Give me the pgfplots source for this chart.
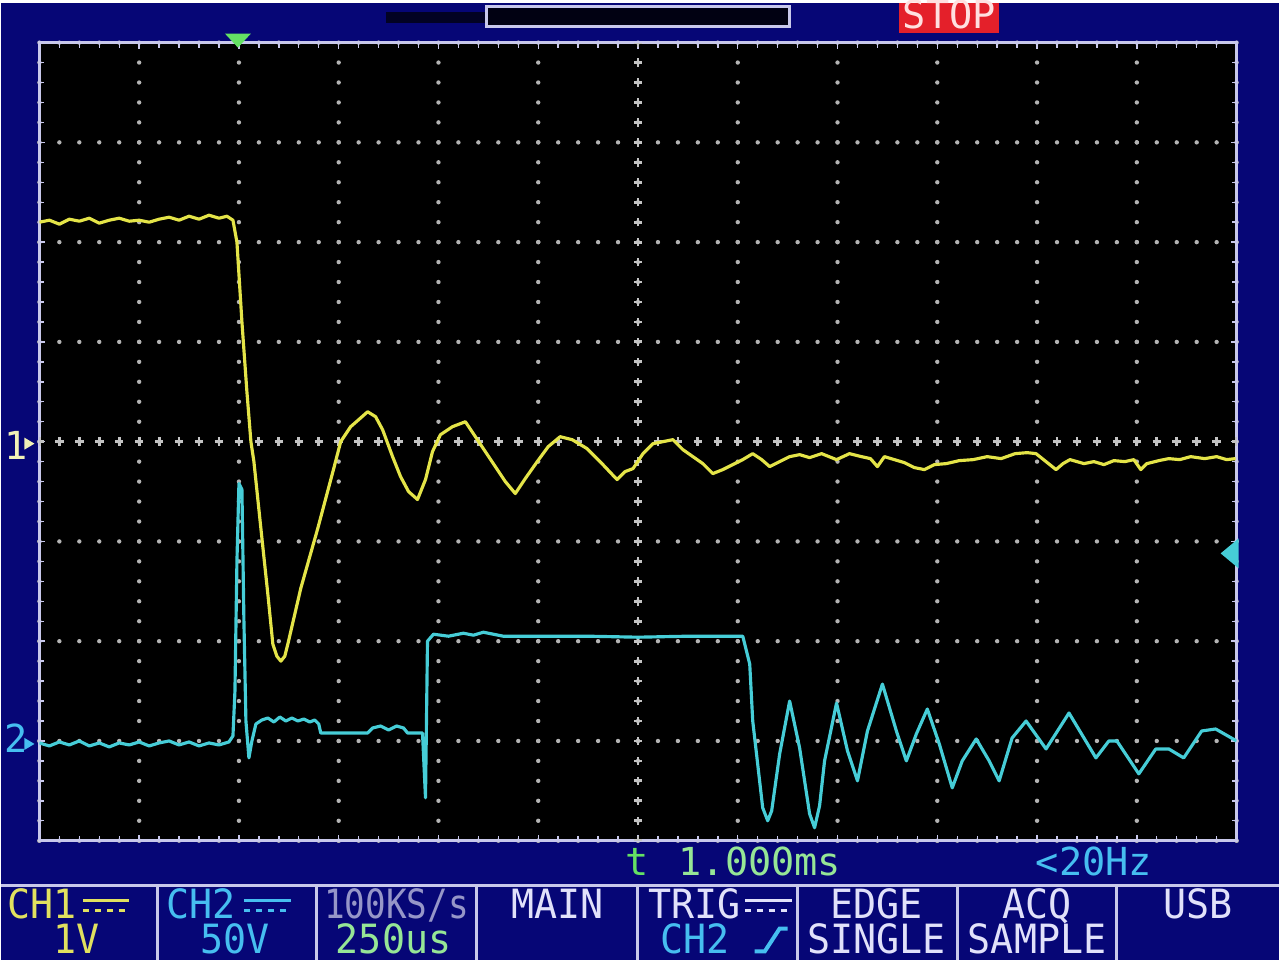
\documentclass[border=0pt]{standalone}
\usepackage{pgfplots}
\pgfplotsset{compat=1.18}
\usepackage{graphicx}
\usepackage{fontspec}
\newfontfamily\osc{DejaVu Sans Mono}
\definecolor{scrbg}{RGB}{6,6,118}
\definecolor{framec}{RGB}{200,200,235}
\definecolor{gridc}{RGB}{180,180,180}
\definecolor{ch1}{RGB}{228,228,72}
\definecolor{ch2}{RGB}{70,205,215}
\definecolor{ch1txt}{RGB}{225,225,95}
\definecolor{ch2txt}{RGB}{70,190,240}
\definecolor{wtxt}{RGB}{225,225,250}
\definecolor{gtxt}{RGB}{150,230,150}
\definecolor{trigg}{RGB}{100,225,100}
\definecolor{stopred}{RGB}{228,32,42}
\definecolor{greyt}{RGB}{150,150,200}
\newcommand\ot[1]{\scalebox{0.95}[1]{#1}}
\tikzset{big/.style={inner sep=0pt, font=\osc\fontsize{11.5}{11.5}\selectfont},
         sml/.style={inner sep=0pt, font=\osc\fontsize{11}{11}\selectfont}}
\begin{document}
\begin{tikzpicture}
\begin{scope}[x=0.1mm,y=-0.1mm,yshift=96mm]
\useasboundingbox (0,0) rectangle (1280,960);
\fill[scrbg] (0,0) rectangle (1280,960);
\end{scope}
\begin{axis}[
  at={(3.8mm,12mm)}, anchor=south west,
  scale only axis, width=120mm, height=80mm,
  xmin=0, xmax=12, ymin=0, ymax=8,
  xtick={0,...,12}, ytick={0,...,8},
  minor x tick num=4, minor y tick num=4,
  xticklabels={}, yticklabels={},
  tick pos=both, tick align=inside,
  major tick length=0.6mm, minor tick length=0.5mm,
  every tick/.style={framec, line width=0.4pt},
  axis line style={framec, line width=0.7pt},
  axis background/.style={fill=black},
  grid=major,
  major grid style={gridc, line width=1.25pt, line cap=round, dash pattern=on 0pt off 2mm},
]
\draw[gridc!80!white, line width=0.28mm, dash pattern=on 0.85mm off 1.15mm, dash phase=0.425mm] (axis cs:6,0) -- (axis cs:6,8);
\draw[gridc!80!white, line width=0.85mm, dash pattern=on 0.28mm off 1.72mm, dash phase=0.14mm] (axis cs:6,0) -- (axis cs:6,8);
\draw[gridc!80!white, line width=0.28mm, dash pattern=on 0.85mm off 1.15mm, dash phase=0.425mm] (axis cs:0,4) -- (axis cs:12,4);
\draw[gridc!80!white, line width=0.85mm, dash pattern=on 0.28mm off 1.72mm, dash phase=0.14mm] (axis cs:0,4) -- (axis cs:12,4);
% CH1 (yellow)
\addplot[ch1, line width=0.9pt, line join=round, mark=none] coordinates {
(0.00,6.20)(0.10,6.22)(0.20,6.18)(0.30,6.23)(0.40,6.21)(0.50,6.24)(0.60,6.19)(0.70,6.22)(0.80,6.24)(0.90,6.21)(1.00,6.22)(1.10,6.20)(1.20,6.23)(1.30,6.25)(1.40,6.22)(1.50,6.26)(1.60,6.23)(1.70,6.27)(1.80,6.24)(1.88,6.26)(1.94,6.22)
(1.98,6.00)(2.03,5.20)(2.08,4.50)(2.12,4.00)(2.15,3.80)(2.22,3.13)(2.29,2.47)(2.34,1.97)(2.38,1.85)(2.42,1.80)(2.46,1.85)(2.49,1.97)(2.62,2.53)(2.79,3.13)(2.95,3.73)(3.02,4.00)(3.12,4.15)(3.20,4.22)(3.29,4.30)(3.37,4.25)(3.44,4.12)(3.54,3.85)(3.62,3.65)(3.70,3.50)(3.79,3.42)(3.87,3.62)(3.94,3.90)(4.02,4.07)(4.14,4.15)(4.27,4.20)(4.37,4.05)(4.45,3.93)(4.57,3.75)(4.67,3.60)(4.77,3.48)(4.87,3.63)(4.99,3.80)(5.10,3.95)(5.22,4.05)(5.34,4.02)(5.49,3.93)(5.62,3.80)(5.79,3.62)(5.87,3.70)(5.95,3.73)(6.05,3.88)(6.15,3.98)(6.25,4.00)(6.35,4.02)(6.45,3.92)(6.55,3.85)(6.65,3.78)(6.75,3.68)(6.85,3.72)(6.95,3.77)(7.05,3.82)(7.15,3.88)(7.24,3.82)(7.32,3.75)(7.42,3.80)(7.52,3.85)(7.62,3.87)(7.72,3.84)(7.84,3.88)(7.99,3.82)(8.12,3.88)(8.24,3.85)(8.33,3.83)(8.40,3.75)(8.47,3.85)(8.57,3.82)(8.67,3.79)(8.77,3.74)(8.87,3.72)(8.97,3.77)(9.09,3.78)(9.22,3.81)(9.36,3.82)(9.50,3.85)(9.64,3.83)(9.78,3.88)(9.90,3.89)(9.99,3.88)(10.09,3.80)(10.19,3.72)(10.26,3.78)(10.33,3.82)(10.47,3.78)(10.57,3.80)(10.67,3.77)(10.77,3.81)(10.88,3.80)(10.97,3.82)(11.04,3.72)(11.10,3.78)(11.22,3.81)(11.32,3.83)(11.43,3.82)(11.54,3.85)(11.68,3.83)(11.80,3.85)(11.90,3.82)(11.99,3.83)
};
% CH2 (cyan)
\addplot[ch2, line width=0.9pt, line join=round, mark=none] coordinates {
(0.00,0.98)(0.10,0.95)(0.20,0.99)(0.30,0.96)(0.40,1.00)(0.50,0.95)(0.60,0.98)(0.70,0.94)(0.80,0.98)(0.90,0.96)(1.00,0.99)(1.10,0.95)(1.20,0.98)(1.30,1.00)(1.40,0.96)(1.50,0.99)(1.60,0.95)(1.70,0.98)(1.80,0.96)(1.90,0.99)(1.94,1.05)(1.96,1.50)(1.98,2.80)(2.00,3.58)(2.03,3.52)(2.05,2.20)(2.07,1.20)(2.10,0.83)(2.13,1.00)(2.17,1.17)(2.23,1.21)(2.29,1.23)(2.35,1.19)(2.41,1.24)(2.47,1.20)(2.53,1.23)(2.59,1.20)(2.65,1.22)(2.71,1.19)(2.76,1.21)(2.80,1.17)(2.82,1.08)(3.02,1.08)(3.29,1.08)(3.34,1.13)(3.42,1.15)(3.50,1.11)(3.58,1.15)(3.65,1.13)(3.69,1.08)(3.84,1.08)(3.87,0.43)(3.89,2.00)(3.95,2.07)(4.10,2.05)(4.25,2.08)(4.35,2.06)(4.45,2.09)(4.55,2.07)(4.65,2.05)(5.00,2.05)(5.50,2.05)(6.00,2.04)(6.50,2.05)(7.05,2.05)(7.12,1.77)(7.15,1.20)(7.25,0.33)(7.30,0.20)(7.34,0.30)(7.42,0.87)(7.52,1.40)(7.62,0.93)(7.72,0.27)(7.77,0.13)(7.82,0.35)(7.87,0.80)(7.99,1.38)(8.10,0.90)(8.20,0.60)(8.30,1.10)(8.45,1.57)(8.59,1.10)(8.69,0.80)(8.79,1.07)(8.90,1.32)(9.02,0.97)(9.15,0.53)(9.25,0.80)(9.39,1.02)(9.52,0.80)(9.62,0.60)(9.75,1.03)(9.89,1.20)(10.09,0.92)(10.32,1.28)(10.59,0.83)(10.72,1.00)(10.80,1.00)(11.02,0.67)(11.19,0.92)(11.32,0.92)(11.47,0.83)(11.65,1.10)(11.79,1.12)(12.00,1.00)
};
\end{axis}
\begin{scope}[x=0.1mm,y=-0.1mm,yshift=96mm]
% top bar
\fill[black!70!scrbg] (385,9) rectangle (485,20);
\draw[framec, line width=0.3mm, fill=black!85!scrbg] (486,4) rectangle (790,24);
\fill[stopred] (900,0) rectangle (1000,30);
\node[sml, anchor=base, text=red!12!white] at (950,26) {STOP};
% trigger position marker
\fill[trigg] (224,31) -- (250,31) -- (237,45) -- cycle;
% channel markers
\node[sml, anchor=base west, text=ch1txt!45!white] at (2,458) {1};
\fill[ch1txt!45!white] (23,436) -- (33,442) -- (23,448) -- cycle;
\node[sml, anchor=base west, text=ch2txt] at (2,752) {2};
\fill[ch2txt] (23,737) -- (33,743) -- (23,749) -- cycle;
% trigger level
\fill[ch2] (1222,552) -- (1240,537) -- (1240,567) -- cycle;
% readout line
\node[sml, anchor=base, text=trigg] at (637,875) {t};
\node[sml, anchor=base west, text=gtxt] at (678,875) {1.000ms};
\node[sml, anchor=base, text=ch2txt] at (1095,875) {<20Hz};
% status bar frame
\draw[framec, line width=0.3mm] (0,885) -- (1280,885);
\foreach \xx in {156,316,476,637,798,958,1118} {\draw[framec, line width=0.3mm] (\xx,885) -- (\xx,960);}
% box 1
\node[big, anchor=base west, text=ch1txt] at (5,918) {\ot{CH1}};
\draw[ch1txt, line width=0.3mm] (82,900) -- (128,900);
\draw[ch1txt, line width=0.3mm, dash pattern=on 0.6mm off 0.6mm] (82,910) -- (128,910);
\node[big, anchor=base, text=ch1txt] at (75,953) {\ot{1V}};
% box 2
\node[big, anchor=base west, text=ch2txt] at (165,918) {\ot{CH2}};
\draw[ch2txt, line width=0.3mm] (243,900) -- (290,900);
\draw[ch2txt, line width=0.3mm, dash pattern=on 0.6mm off 0.6mm] (243,910) -- (290,910);
\node[big, anchor=base, text=ch2txt] at (234,953) {\ot{50V}};
% box 3
\node[big, anchor=base, text=greyt] at (396,918) {\scalebox{0.85}[1]{100KS/s}};
\node[big, anchor=base, text=gtxt] at (393,953) {\ot{250us}};
% box 4
\node[big, anchor=base, text=wtxt] at (557,918) {\ot{MAIN}};
% box 5
\node[big, anchor=base west, text=wtxt] at (648,918) {\ot{TRIG}};
\draw[wtxt, line width=0.3mm] (745,900) -- (792,900);
\draw[wtxt, line width=0.3mm, dash pattern=on 0.6mm off 0.6mm] (745,910) -- (792,910);
\node[big, anchor=base west, text=ch2txt] at (660,953) {\ot{CH2}};
\draw[ch2txt, line width=0.4mm] (755,951) -- (765,951) -- (780,928) -- (788,928);
% box 6
\node[big, anchor=base, text=wtxt] at (877,918) {\ot{EDGE}};
\node[big, anchor=base, text=wtxt] at (877,953) {\ot{SINGLE}};
% box 7
\node[big, anchor=base, text=wtxt] at (1038,918) {\ot{ACQ}};
\node[big, anchor=base, text=wtxt] at (1038,953) {\ot{SAMPLE}};
% box 8
\node[big, anchor=base, text=wtxt] at (1199,918) {\ot{USB}};
\end{scope}
\end{tikzpicture}
\end{document}
